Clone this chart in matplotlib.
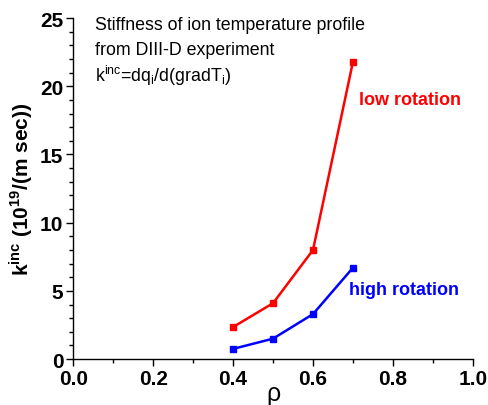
import matplotlib
matplotlib.use('Agg')
import matplotlib.pyplot as plt
from matplotlib.ticker import MultipleLocator

plt.rcParams['font.family'] = ['Liberation Sans', 'DejaVu Sans']
plt.rcParams['mathtext.fontset'] = 'custom'
plt.rcParams['mathtext.rm'] = 'Liberation Sans'
plt.rcParams['mathtext.bf'] = 'Liberation Sans:bold'

rho = [0.4, 0.5, 0.6, 0.7]
low_rotation = [2.35, 4.1, 8.0, 21.8]
high_rotation = [0.75, 1.5, 3.3, 6.7]

fig = plt.figure(figsize=(4.88, 4.06), dpi=100)
ax = fig.add_axes([0.150, 0.113, 0.819, 0.840])

ax.plot(rho, low_rotation, color='#ff0000', lw=1.8, marker='s', ms=5)
ax.plot(rho, high_rotation, color='#0000ff', lw=1.8, marker='s', ms=5)

ax.set_xlim(0, 1.0)
ax.set_ylim(0, 25)
ax.xaxis.set_major_locator(MultipleLocator(0.2))
ax.xaxis.set_minor_locator(MultipleLocator(0.1))
ax.yaxis.set_major_locator(MultipleLocator(5))
ax.yaxis.set_minor_locator(MultipleLocator(1))
ax.xaxis.set_major_formatter(matplotlib.ticker.FormatStrFormatter('%.1f'))

for s in ['top', 'right']:
    ax.spines[s].set_visible(False)
for s in ['left', 'bottom']:
    ax.spines[s].set_linewidth(1.0)

ax.tick_params(which='both', direction='out', width=1.0)
ax.tick_params(which='major', length=5, labelsize=15, pad=2)
ax.tick_params(which='minor', length=3)
for lab in ax.get_xticklabels() + ax.get_yticklabels():
    lab.set_fontweight('bold')

ax.set_xlabel('ρ', fontsize=18)
ax.xaxis.set_label_coords(0.5, -0.065)
ax.set_ylabel(r'k$^{\mathbf{inc}}$ (10$^{\mathbf{19}}$/(m sec))', fontsize=15,
              fontweight='bold', labelpad=4)

ax.text(0.055, 24.55, 'Stiffness of ion temperature profile',
        fontsize=12.8, va='center', ha='left')
ax.text(0.055, 22.7, 'from DIII-D experiment',
        fontsize=12.8, va='center', ha='left')
ax.text(0.055, 20.8, r'k$^{\mathrm{inc}}$=dq$_{\mathrm{i}}$/d(gradT$_{\mathrm{i}}$)',
        fontsize=12.8, va='center', ha='left')

ax.text(0.715, 19.0, 'low rotation', color='#ff0000', fontsize=13,
        fontweight='bold', ha='left', va='center')
ax.text(0.69, 5.1, 'high rotation', color='#0000ff', fontsize=13,
        fontweight='bold', ha='left', va='center')

fig.savefig('out.png', dpi=100)
